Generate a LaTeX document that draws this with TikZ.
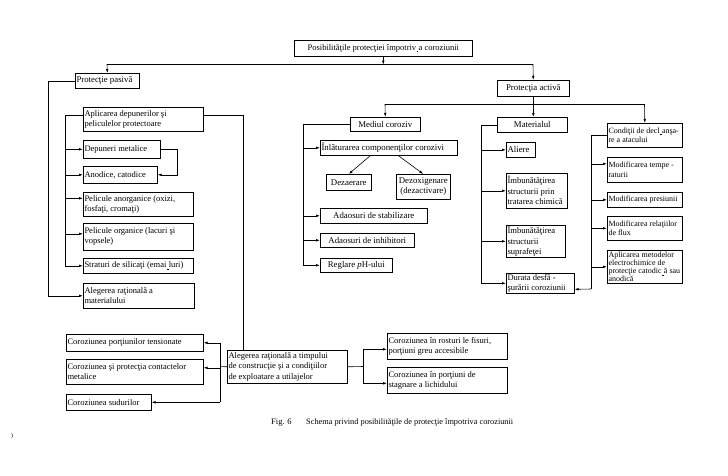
\documentclass[tikz,border=0pt]{standalone}
\usepackage{fontspec}
\setmainfont{Liberation Serif}
\usetikzlibrary{arrows.meta}
\newcommand\lk{\kern0.3pt\raisebox{-1.4pt}{\rule{1.8pt}{0.4pt}}\kern0.3pt}
\newcommand\bxl[7][]{\node[bx,minimum width=#5pt,minimum height=#6pt] (#2) at (#3,#4) {};\node[tx,align=left,anchor=west,#1] (#2t) at ([xshift=1.3pt]#2.west) {#7};}
\newcommand\bxc[7][]{\node[bx,minimum width=#5pt,minimum height=#6pt] (#2) at (#3,#4) {};\node[tx,align=center,#1] (#2t) at (#2.center) {#7};}
\begin{document}
\begin{tikzpicture}[x=1pt,y=-1pt,
  bx/.style={draw, line width=0.6pt, anchor=north west, inner sep=0pt},
  tx/.style={inner sep=0pt, font=\fontsize{8.5}{10}\selectfont},
  rc/.style={font=\fontsize{8}{9.5}\selectfont},
  mc/.style={font=\fontsize{8.8}{10}\selectfont},
  ln/.style={line width=0.6pt},
  ar/.style={line width=0.6pt, -{Latex[length=4pt,width=2.6pt]}}]
\useasboundingbox (0,0) rectangle (728,475);
% top
\bxc{T}{294}{40}{178}{16}{Posibilităţile protecţiei împotriv\lk a coroziunii}
\bxl[mc]{P}{75}{73}{64}{15}{Protecţie pasivă}
\bxc[mc]{A}{497}{80}{72}{16}{Protecţia activă}
% passive column
\bxl{Ap}{83}{107}{120}{24}{Aplicarea depunerilor şi\\peliculelor protectoare}
\bxl{Dm}{83}{140}{77}{18}{Depuneri metalice}
\bxl{Ac}{83}{166}{74}{17}{Anodice, catodice}
\bxl{Pa}{83}{192}{110}{24}{Pelicule anorganice (oxizi,\\fosfaţi, cromaţi)}
\bxl{Po}{83}{223}{110}{27}{Pelicule organice (lacuri şi\\vopsele)}
\bxl{St}{83}{258}{110}{15}{Straturi de silicaţi (emai\lk luri)}
\bxl{Am}{83}{283}{111}{25}{Alegerea raţională a\\materialului}
% mediul
\bxc[mc]{Md}{350}{117}{70}{14}{Mediul coroziv}
\bxl[mc]{In}{320}{140}{137}{15}{Înlăturarea componenţilor corozivi}
\bxc[mc]{Dz}{326}{174}{45}{16}{Dezaerare}
\bxc[mc]{Do}{396}{174}{54}{25}{Dezoxigenare\\(dezactivare)}
\bxc[mc]{As}{320}{208}{107}{15}{Adaosuri de stabilizare}
\bxc[mc]{Ai}{320}{233}{94}{14}{Adaosuri de inhibitori}
\bxc[mc]{Rp}{320}{258}{72}{14}{Reglare \textit{p}H-ului}
% materialul
\bxc[mc]{Mt}{497}{117}{70}{15}{Materialul}
\bxl[mc]{Al}{506}{142}{29}{15}{Aliere}
\bxl[font=\fontsize{8.6}{10.5}\selectfont]{Ic}{506}{173}{61}{35}{Îmbunătăţirea\\structurii prin\\tratarea chimică}
\bxl[font=\fontsize{8.6}{10.5}\selectfont]{Is}{506}{225}{59}{32}{Îmbunătăţirea\\structurii\\suprafeţei}
\bxl{Du}{506}{273}{68}{20}{Durata desfă -\\şurării coroziunii}
% conditii
\bxl[rc]{Cd}{607}{123}{75}{24}{Condiţii de decl\lk anşa-\\re a atacului}
\bxl[rc]{Mt1}{607}{157}{75}{25}{Modificarea tempe -\\raturii}
\bxl[rc]{Mp}{607}{192}{75}{15}{Modificarea presiunii}
\bxl[rc]{Mr}{607}{216}{75}{24}{Modificarea relaţiilor\\de flux}
\bxl[font=\fontsize{8}{8.2}\selectfont]{Ae}{607}{250}{75}{33}{Aplicarea metodelor\\electrochimice de\\protecţie catodic\lk ă sau\\anodică}
% bottom
\bxl[font=\fontsize{8.5}{10.5}\selectfont]{At}{227}{350}{120}{33}{Alegerea raţională a timpului\\de construcţie şi a condiţiilor\\de exploatare a utilajelor}
\bxl{Cp}{66}{334}{137}{17}{Coroziunea porţiunilor tensionate}
\bxl{Cc}{66}{359}{137}{25}{Coroziunea şi protecţia contactelor\\metalice}
\bxl{Cs}{66}{394}{85}{16}{Coroziunea sudurilor}
\bxl{Cr}{387}{333}{120}{26}{Coroziunea în rosturi le fisuri,\\porţiuni greu accesibile}
\bxl{Cl}{387}{367}{120}{26}{Coroziunea în porţiuni de\\stagnare a lichidului}
% caption
\node[anchor=base west, inner sep=0pt, font=\fontsize{8.5}{9}\selectfont] (cap1) at (271,424) {Fig. 6};
\node[anchor=base west, inner sep=0pt, font=\fontsize{8.3}{9}\selectfont] (cap2) at (306,424) {Schema privind posibilităţile de protecţie împotriva coroziunii};
\node[inner sep=0pt, font=\fontsize{6}{6}\selectfont] (mark) at (12,436) {)};
% connectors top
\draw[ar] (T.south) -- ++(0,8);
\coordinate (L1) at (107,64);
\coordinate (L2) at (533,64);
\draw[ln] (L1) -- (L2);
\draw[ar] (L1) -- (P.north);
\draw[ar] (L2) -- (A.north);
\draw[ar] (A.south) -- (A.south |- Mt.north);
\coordinate (B1) at (385,104);
\coordinate (B2) at (644.5,104);
\draw[ln] (B1) -- (B2);
\draw[ar] (B1) -- (Md.north);
\draw[ar] (B2) -- (Cd.north);
% mediul
\coordinate (vm) at (303,265);
\draw[ln] (Md.west) -| (vm);
\draw[ar] (vm |- In.west) -- (In.west);
\draw[ar] (vm |- As.west) -- (As.west);
\draw[ar] (vm |- Ai.west) -- (Ai.west);
\draw[ar] (vm |- Rp.west) -- (Rp.west);
\draw[ar] ([xshift=-18.5pt]In.south) -- (Dz.north);
\draw[ar] ([xshift=9.5pt]In.south) -- (Do.north);
% materialul
\coordinate (vt) at (481,283);
\draw[ln] (Mt.west) -| (vt);
\draw[ar] (vt |- Al.west) -- (Al.west);
\draw[ar] (vt |- Ic.west) -- (Ic.west);
\draw[ar] (vt |- Is.west) -- (Is.west);
\draw[ar] (vt |- Du.west) -- (Du.west);
% conditii
\coordinate (du) at ([yshift=-6pt]Du.east);
\coordinate (vc) at (591,289);
\draw[ln] (Cd.west) -| (vc);
\coordinate (m1) at ([yshift=6pt]Mt1.west);
\draw[ar] (vc |- m1) -- (m1);
\draw[ar] (vc |- Mp.west) -- (Mp.west);
\draw[ar] (vc |- Mr.west) -- (Mr.west);
\draw[ar] (vc |- Ae.west) -- (Ae.west);
\draw[ar] (vc) -- (du);
% passive
\draw[ar] (P.west) -- ++(-27,0) |- (Am.west);
\coordinate (apl) at ([yshift=4pt]Ap.west);
\coordinate (apr) at ([yshift=4pt]Ap.east);
\coordinate (va) at (65,265.5);
\draw[ln] (apl) -| (va);
\coordinate (pa) at ([yshift=6pt]Pa.west);
\coordinate (po) at ([yshift=3pt]Po.west);
\draw[ar] (va |- Dm.west) -- (Dm.west);
\draw[ar] (va |- Ac.west) -- (Ac.west);
\draw[ar] (va |- pa) -- (pa);
\draw[ar] (va |- po) -- (po);
\draw[ar] (va |- St.west) -- (St.west);
\draw[ar] (Dm.east) -- ++(17,0) |- (Ac.east);
\coordinate (atin) at ([xshift=-44pt]At.north);
\draw[ln] (apr) -| (atin);
% bottom
\coordinate (vl) at (220,366.5);
\coordinate (cc) at ([yshift=4pt]Cc.east);
\draw[ln] (At.west) -- (vl);
\draw[ln] (vl |- Cp.east) -- (vl |- Cs.east);
\draw[ar] (vl |- Cp.east) -- (Cp.east);
\draw[ar] (vl |- cc) -- (cc);
\draw[ar] (vl |- Cs.east) -- (Cs.east);
\coordinate (vr) at (363,366.5);
\coordinate (cr) at ([yshift=-3pt]Cr.west);
\coordinate (cl) at ([yshift=-3pt]Cl.west);
\draw[ln] (At.east) -- (vr);
\draw[ln] (vr |- cr) -- (vr |- cl);
\draw[ar] (vr |- cr) -- (cr);
\draw[ar] (vr |- cl) -- (cl);
\end{tikzpicture}
\end{document}
